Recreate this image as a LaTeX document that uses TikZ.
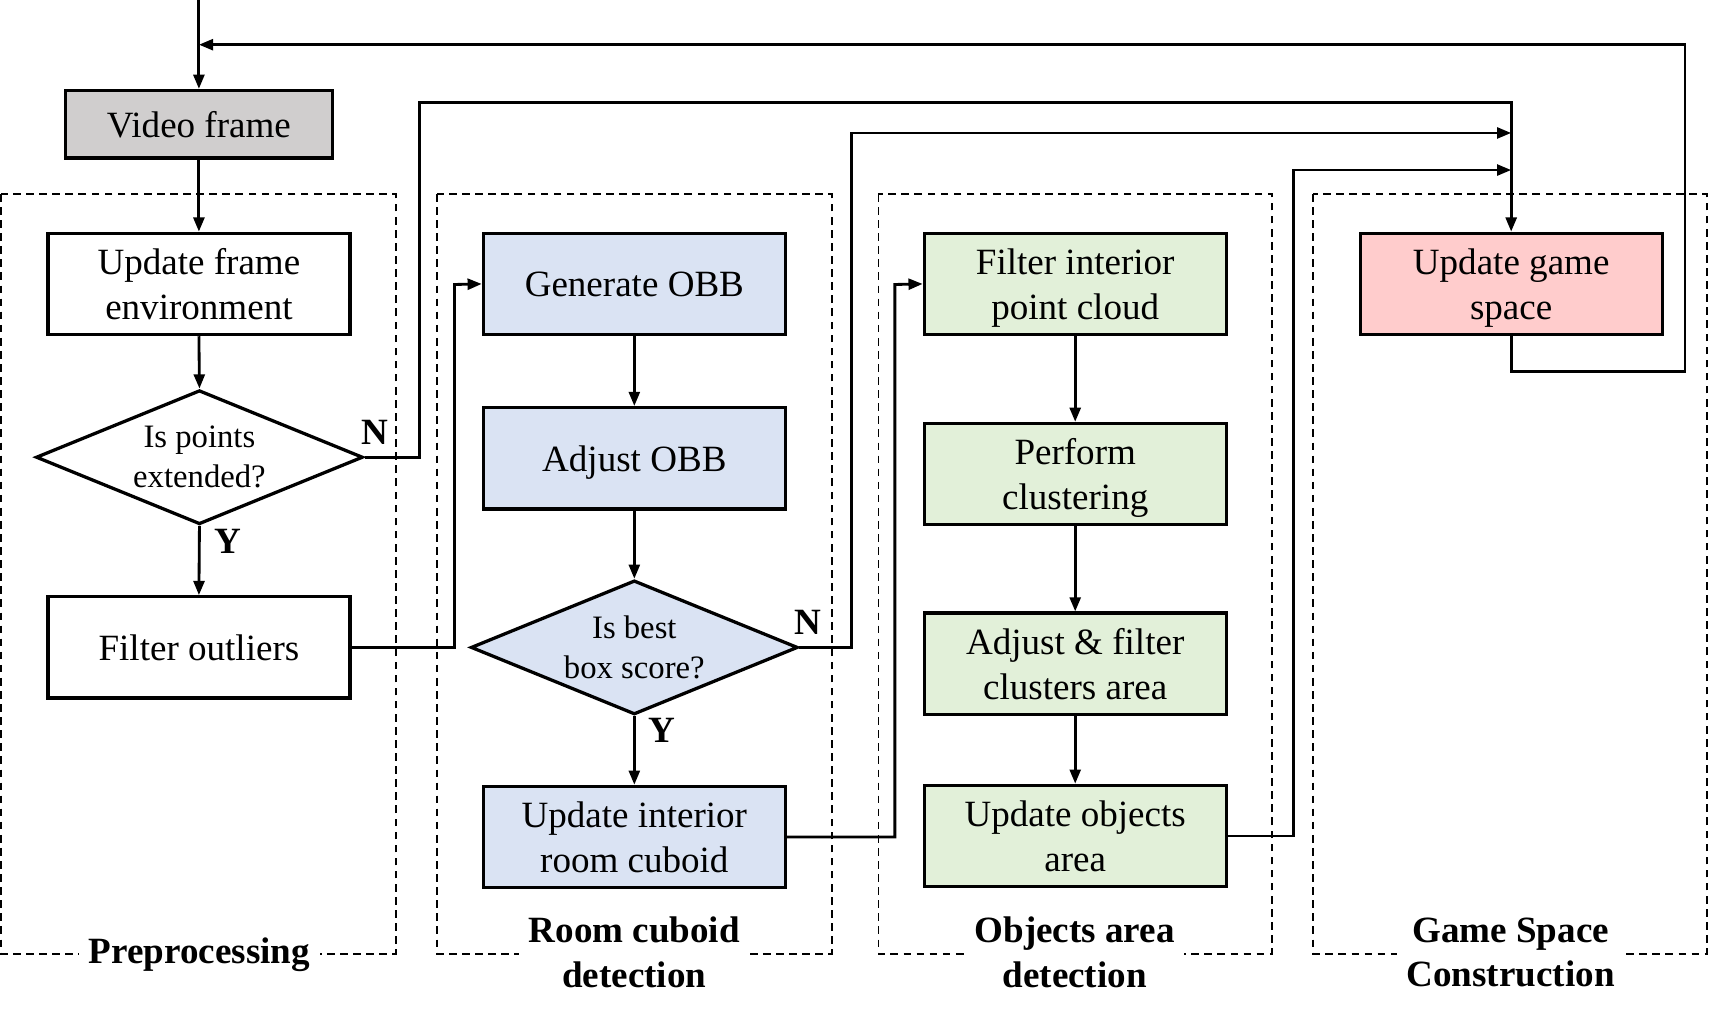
\documentclass[tikz,border=0pt]{standalone}
\usepackage{fontspec}
\setmainfont{Liberation Serif}
\usetikzlibrary{arrows.meta,shapes.geometric}
\definecolor{vgray}{HTML}{D0CECE}
\definecolor{vblue}{HTML}{DAE3F3}
\definecolor{vgreen}{HTML}{E2F0D9}
\definecolor{vpink}{HTML}{FFCCCC}
\newcommand\mainfs{\fontsize{34}{41}\selectfont}
\newcommand\diafs{\fontsize{30}{37}\selectfont}
\begin{document}
\begin{tikzpicture}[x=1pt,y=-1pt,
  box/.style={draw, line width=3pt, minimum width=277pt, minimum height=93pt, align=center, font=\mainfs, inner sep=0pt, text depth=0pt},
  dia/.style={draw, diamond, line width=3pt, minimum width=300pt, minimum height=123pt, aspect=2.44, inner sep=0pt, align=center, font=\diafs},
  conn/.style={line width=2.6pt, -{Triangle[length=13pt,width=10pt]}},
  group/.style={draw, dashed, dash pattern=on 7pt off 5pt, line width=1.8pt},
  glabel/.style={fill=white, align=center, font=\mainfs\bfseries, inner xsep=9pt, inner ysep=0pt},
  yn/.style={font=\mainfs\bfseries, inner sep=0pt}]
\useasboundingbox (0,0) rectangle (1568,935);

% groups
\draw[group] (1,178) rectangle (363,875);
\draw[group] (401,178) rectangle (763,875);
\draw[group] (806,178) rectangle (1167,875);
\draw[group] (1205,178) rectangle (1566,875);
\node[glabel] (lpre) at (183,876) {Preprocessing};
\node[glabel] (lroom) at (582,874) {Room cuboid\\detection};
\node[glabel] (lobj) at (986,874) {Objects area\\detection};
\node[glabel] (lgame) at (1386,874) {Game Space\\Construction};

% nodes
\node[box, fill=vgray, minimum width=245pt, minimum height=62pt] (vf) at (182.5,114) {Video frame};
\node[box] (ufe) at (182.5,260.5) {Update frame\\environment};
\node[dia] (d1) at (183,419.5) {Is points\\extended?};
\node[box] (fo) at (182.5,594) {Filter outliers};

\node[box, fill=vblue] (gobb) at (582,260.5) {Generate OBB};
\node[box, fill=vblue] (aobb) at (582,420.5) {Adjust OBB};
\node[dia, fill=vblue] (d2) at (582,594) {Is best\\box score?};
\node[box, fill=vblue] (uirc) at (582,768) {Update interior\\room cuboid};

\node[box, fill=vgreen] (fipc) at (986.5,260.5) {Filter interior\\point cloud};
\node[box, fill=vgreen] (pc) at (986.5,435) {Perform\\clustering};
\node[box, fill=vgreen] (afca) at (986.5,609) {Adjust \& filter\\clusters area};
\node[box, fill=vgreen] (uoa) at (986.5,767) {Update objects\\area};

\node[box, fill=vpink] (ugs) at (1386.5,260.5) {Update game\\space};

% labels
\node[yn] (n1) at (344,397) {N};
\node[yn] (y1) at (209,497) {Y};
\node[yn] (n2) at (741,571) {N};
\node[yn] (y2) at (607,670) {Y};

% connectors
\coordinate (top) at (182.5,0);
\draw[conn] (top) -- (vf.north);
\draw[conn] (vf.south) -- (ufe.north);
\draw[conn] (ufe.south) -- (d1.north);
\draw[conn] (d1.south) -- (fo.north);
\draw[conn] (fo.east) -| (417,261) -- (gobb.west);
\draw[conn] (d1.east) -| (385,94) -| (ugs.north);

\draw[conn] (gobb.south) -- (aobb.north);
\draw[conn] (aobb.south) -- (d2.north);
\draw[conn] (d2.south) -- (uirc.north);
\draw[conn] (d2.east) -| (781,122) -- (1386.5,122);
\draw[conn] (uirc.east) -| (821,261) -- (fipc.west);

\draw[conn] (fipc.south) -- (pc.north);
\draw[conn] (pc.south) -- (afca.north);
\draw[conn] (afca.south) -- (uoa.north);
\draw[conn] (uoa.east) -| (1187,156) -- (1386.5,156);

\draw[conn] (ugs.south) |- (1546,341) |- (182.5,41);
\end{tikzpicture}
\end{document}
